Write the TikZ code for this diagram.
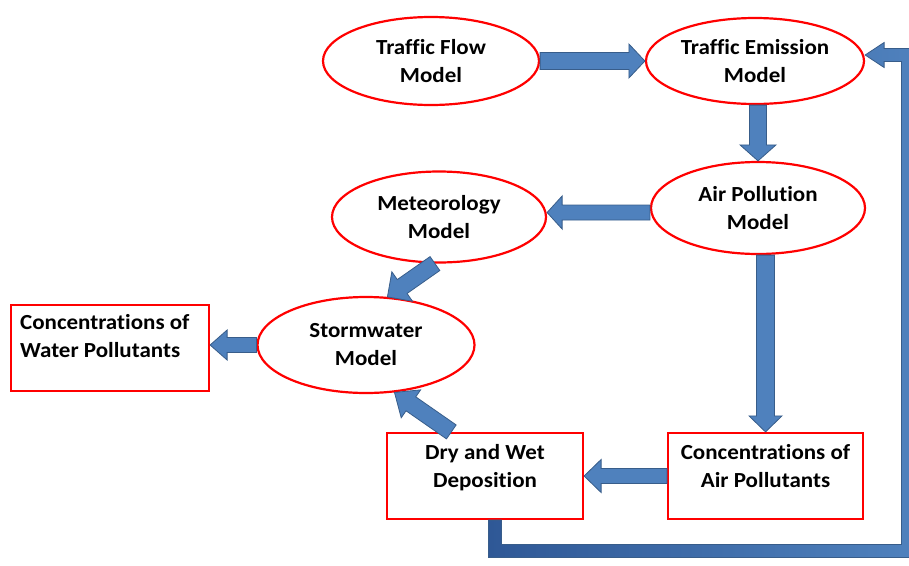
\documentclass[tikz,border=0pt]{standalone}
\usepackage{fontspec}
\setmainfont{Carlito}[FakeStretch=1.07,Ligatures={NoCommon}]
\usetikzlibrary{calc,shapes.geometric}
\definecolor{abfill}{RGB}{79,129,189}
\definecolor{abedge}{RGB}{56,93,138}
\definecolor{fbdark}{RGB}{47,88,150}
\newcommand{\lbl}{\bfseries\fontsize{21.5}{28}\selectfont}
\newcommand{\blockarr}[5]{%
  \coordinate (baH) at ($(#2)!#5!(#1)$);
  \draw[barrow] ($(#1)!#3!90:(#2)$) -- ($(baH)!#3!90:(#2)$) -- ($(baH)!#4!90:(#2)$) -- (#2)
     -- ($(baH)!#4!-90:(#2)$) -- ($(baH)!#3!-90:(#2)$) -- ($(#1)!#3!-90:(#2)$) -- cycle;}
\begin{document}
\begin{tikzpicture}[x=1pt,y=-1pt,
  ell/.style={ellipse, draw=red, line width=2.2pt, fill=white, inner sep=0pt, align=center, font=\lbl},
  box/.style={rectangle, draw=red, line width=2.2pt, fill=white, inner sep=0pt},
  txt/.style={align=center, inner sep=0pt, font=\lbl},
  barrow/.style={fill=abfill, draw=abedge, line width=0.8pt, line join=miter},
  fbarrow/.style={left color=fbdark, right color=abfill, draw=abedge, line width=0.8pt, line join=miter}]
\useasboundingbox (0,0) rectangle (909,565);
% nodes
\node[ell, minimum width=216pt, minimum height=88pt] (tf) at (431,61) {Traffic Flow\\Model};
\node[ell, minimum width=218pt, minimum height=86pt] (te) at (755,61) {Traffic Emission\\Model};
\node[ell, minimum width=214pt, minimum height=92pt] (ap) at (758,208) {Air Pollution\\Model};
\node[ell, minimum width=214pt, minimum height=91pt] (met) at (439,217) {Meteorology\\Model};
\node[ell, minimum width=217pt, minimum height=96pt] (sw) at (366,345) {Stormwater\\Model};
\node[box, minimum width=198pt, minimum height=86pt] (wp) at (110,348) {};
\node[box, minimum width=196pt, minimum height=86pt] (dw) at (485,476) {};
\node[box, minimum width=195pt, minimum height=86pt] (ca) at (765.5,476) {};
\node[txt, anchor=north west, align=left] (wpt) at ($(wp.north west)+(10,10)$) {Concentrations of\\Water Pollutants};
\node[txt, anchor=north] (dwt) at ($(dw.north)+(0,12)$) {Dry and Wet\\Deposition};
\node[txt, anchor=north] (cat) at ($(ca.north)+(0,12)$) {Concentrations of\\Air Pollutants};
% connector coordinates
\coordinate (a2s) at (te.south -| ap.north);
\coordinate (a3m) at ($(ap.west)!0.5!(met.east)$);
\coordinate (a3s) at (ap.west |- a3m);
\coordinate (a3e) at (met.east |- a3m);
\coordinate (a5e) at (wp.east |- sw.west);
\coordinate (a6s) at (ap.south -| ca.north);
\coordinate (a8s) at ($(dw.north west)!0.33!(dw.north east)$);
% block arrows
\blockarr{tf.east}{te.west}{8.5pt}{17pt}{16pt}
\blockarr{a2s}{ap.north}{8.5pt}{18pt}{16pt}
\blockarr{a3s}{a3e}{7.5pt}{16.5pt}{15pt}
\blockarr{met.265}{sw.66}{8.5pt}{18pt}{18pt}
\blockarr{sw.west}{a5e}{7.5pt}{15pt}{17pt}
\blockarr{a6s}{ca.north}{9pt}{16.5pt}{16pt}
\blockarr{ca.west}{dw.east}{7.5pt}{16.5pt}{17pt}
\blockarr{a8s}{sw.301}{8.5pt}{17pt}{20pt}
% feedback loop
\coordinate (fb0) at ($(dw.south)+(10,0)$);
\coordinate (fbc) at (908,551);
\coordinate (fbtip) at ($(te.east)+(0,-6)$);
\coordinate (fb1) at (fb0 |- fbc);
\coordinate (fb2) at (fbc |- fbtip);
\begin{scope}
\clip (0,0) rectangle (909,565);
\draw[fbarrow] ($(fb0)+(-6.5,0)$) -- ($(fb1)+(-6.5,6.5)$) -- ($(fbc)+(6.5,6.5)$)
  -- ($(fb2)+(6.5,-6.5)$) -- ($(fbtip)+(19,-6.5)$) -- ($(fbtip)+(19,-12.5)$) -- (fbtip)
  -- ($(fbtip)+(19,12.5)$) -- ($(fbtip)+(19,6.5)$) -- ($(fb2)+(-6.5,6.5)$)
  -- ($(fbc)+(-6.5,-6.5)$) -- ($(fb1)+(6.5,-6.5)$) -- ($(fb0)+(6.5,0)$) -- cycle;
\end{scope}
\end{tikzpicture}
\end{document}
